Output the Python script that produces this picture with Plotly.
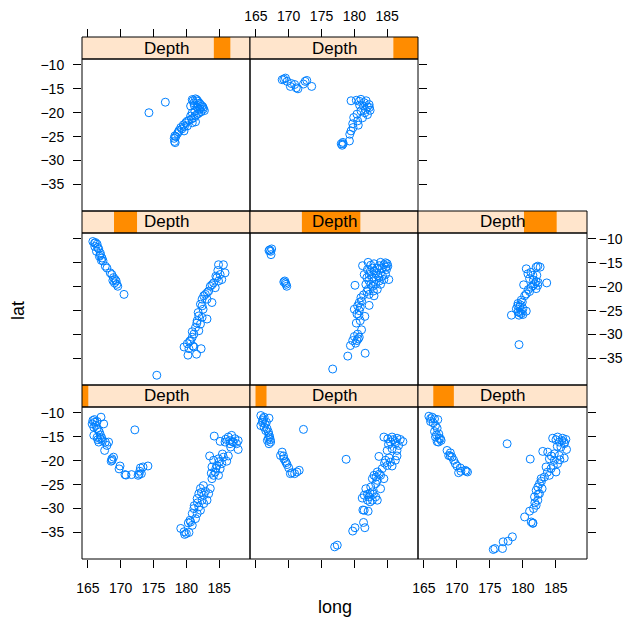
import plotly.graph_objects as go

# ---------------- data ----------------
# shingle levels of Depth (equal-count intervals)
depth_lo = [39.5, 60.5, 97.5, 161.5, 237.5, 441.5, 542.5, 586.5]
depth_hi = [63.5, 102.5, 175.5, 249.5, 460.5, 565.5, 605.5, 680.5]
depth_min, depth_max = 39.5, 680.5

x_ticks = [165, 170, 175, 180, 185]
y_ticks = [-10, -15, -20, -25, -30, -35]

# panel 1 (bottom-left)
long_p1 = [165.75, 166.05, 165.65, 166.4, 167.0, 167.4, 165.9, 166.4, 166.75, 165.9, 166.4, 166.9, 167.25, 166.65,
           167.65, 168.15, 167.9, 167.55, 168.65, 168.9, 168.55, 169.9, 169.75, 170.65, 171.65, 172.65, 173.15, 172.9,
           173.4, 174.15, 172.15, 166.2, 166.0, 166.6, 166.9, 167.1, 166.5, 168.7, 170.8, 172.8, 173.0,
           184.25, 185.15, 185.9, 186.4, 186.9, 187.4, 187.9, 187.15, 186.65, 187.65, 186.75, 187.9, 183.55, 184.15,
           184.9, 185.65, 186.4, 186.15, 185.4, 184.65, 183.9, 185.15, 184.4, 184.15, 184.9, 183.9, 183.65, 182.15,
           181.9, 182.65, 183.4, 181.65, 182.4, 183.15, 182.65, 181.9, 182.15, 181.15, 180.9, 181.65, 181.4, 180.65,
           180.9, 180.55, 179.15, 179.75, 180.4, 179.65, 186.0, 186.6, 187.0, 185.5, 185.0, 184.5, 183.8, 182.6,
           182.9, 182.3, 181.7, 181.2, 180.3, 180.0]
lat_p1 = [-11.6, -11.95, -12.3, -11.8, -10.9, -12.3, -13.0, -13.3, -14.0, -14.7, -15.1, -15.4, -15.8, -16.1,
          -16.1, -16.1, -16.8, -17.85, -19.6, -19.25, -20.1, -21.1, -21.7, -22.9, -22.9, -23.05, -22.7, -22.2,
          -21.3, -21.1, -13.55, -12.6, -11.4, -13.6, -14.6, -15.2, -15.6, -19.9, -23.0, -22.8, -21.5,
          -14.85, -15.95, -16.1, -15.05, -14.7, -15.4, -15.8, -16.1, -16.45, -16.45, -17.15, -17.65, -19.0, -19.9,
          -19.6, -19.25, -19.0, -20.1, -20.6, -21.0, -21.3, -21.7, -22.35, -23.05, -23.05, -23.75, -25.8, -25.8,
          -26.9, -27.2, -26.9, -27.9, -28.25, -28.25, -28.95, -29.65, -30.35, -30.0, -31.05, -31.05, -32.1, -32.8,
          -33.5, -32.45, -34.15, -35.4, -35.0, -34.85, -15.5, -15.8, -16.0, -18.6, -20.2, -21.6, -22.6, -25.2,
          -26.4, -26.6, -28.8, -29.4, -33.0, -35.2]

# panel 2 (bottom-middle)
long_p2 = [165.75, 166.25, 167.0, 166.0, 166.6, 165.75, 166.25, 166.5, 166.9, 167.1, 166.75, 167.25, 167.0, 169.0,
           168.75, 169.25, 169.5, 169.75, 170.0, 170.25, 170.9, 171.25, 171.6, 172.25, 178.75, 166.1, 166.4, 166.0,
           166.7, 167.0, 166.9, 167.2, 169.2, 169.6, 170.5,
           184.5, 185.1, 185.75, 186.5, 187.0, 187.4, 185.5, 186.25, 186.75, 185.0, 185.75, 186.5, 183.75, 184.75,
           185.5, 186.25, 186.5, 185.0, 185.75, 184.25, 183.5, 183.0, 184.0, 184.5, 183.5, 182.75, 183.25, 184.0,
           182.5, 181.75, 182.75, 181.5, 182.25, 183.25, 182.0, 183.5, 182.75, 181.5, 182.1, 181.4, 181.6, 179.75,
           180.1, 177.0, 177.4, 185.9, 186.2, 185.2, 184.6, 185.3, 183.8, 183.3, 182.4, 182.0, 182.9, 181.2,
           182.4, 181.3]
lat_p2 = [-10.55, -10.9, -11.1, -11.6, -11.95, -12.65, -13.0, -13.7, -14.0, -15.05, -15.75, -16.1, -16.45, -18.2,
          -18.9, -19.6, -20.1, -20.8, -21.5, -22.7, -22.7, -22.35, -22.0, -13.45, -19.7, -11.2, -12.3, -12.0,
          -13.3, -14.6, -15.3, -15.6, -19.0, -20.4, -22.5,
          -15.05, -15.4, -15.05, -15.3, -15.55, -16.0, -16.1, -16.45, -16.8, -17.85, -17.5, -17.85, -19.1, -19.9,
          -20.3, -19.9, -19.0, -21.0, -21.1, -21.65, -22.35, -23.05, -23.05, -23.75, -24.1, -23.75, -24.8, -25.85,
          -25.5, -25.85, -26.5, -27.2, -27.55, -27.55, -28.25, -28.25, -28.25, -30.35, -30.55, -32.9, -34.0, -34.7,
          -34.0, -38.0, -37.65, -15.6, -16.0, -16.6, -20.5, -19.4, -22.8, -23.4, -26.8, -27.0, -27.0, -27.8,
          -28.6, -30.3]

# panel 3 (bottom-right)
long_p3 = [165.75, 166.25, 166.6, 167.1, 166.0, 166.4, 166.75, 167.0, 166.6, 167.25, 166.75, 167.5, 167.0, 167.6,
           168.5, 169.0, 168.75, 169.25, 169.5, 169.75, 170.0, 170.5, 170.25, 171.25, 171.6, 177.6, 181.1, 166.0,
           166.9, 167.3, 167.2, 169.0, 170.6, 171.4,
           184.5, 185.25, 186.0, 186.5, 185.5, 186.25, 185.75, 186.6, 183.0, 183.75, 184.75, 185.5, 186.25, 184.0,
           184.75, 185.25, 183.5, 184.25, 185.0, 184.0, 183.25, 182.75, 182.5, 182.25, 182.9, 182.0, 182.5, 181.75,
           182.25, 182.0, 181.6, 181.0, 180.25, 181.25, 181.5, 178.4, 177.75, 177.0, 175.75, 175.5, 176.9, 185.0,
           185.9, 186.3, 185.2, 184.3, 185.6, 184.6, 183.7, 182.8, 182.3, 181.8, 181.5]
lat_p3 = [-10.7, -10.9, -11.25, -11.4, -11.8, -12.1, -12.65, -13.2, -13.9, -14.4, -15.05, -15.4, -16.0, -15.75,
          -17.85, -18.35, -18.9, -19.25, -19.9, -20.6, -21.1, -21.5, -22.5, -22.0, -22.35, -16.45, -19.65, -11.2,
          -14.6, -15.3, -16.1, -19.0, -22.2, -22.2,
          -15.3, -15.05, -15.3, -15.55, -16.1, -16.45, -17.15, -17.65, -18.05, -18.2, -18.55, -18.9, -19.45, -19.6,
          -19.9, -20.6, -21.3, -21.65, -22.35, -23.05, -23.4, -23.75, -24.8, -25.5, -25.85, -26.2, -26.9, -27.55,
          -28.25, -29.3, -30.0, -30.55, -31.75, -32.8, -33.1, -35.9, -36.8, -36.95, -38.35, -38.55, -38.35, -15.6,
          -15.8, -16.2, -17.0, -19.0, -19.8, -21.0, -22.4, -24.3, -27.0, -28.8, -33.0]

# panel 4 (middle-left)
long_p4 = [165.75, 166.15, 166.4, 166.05, 166.65, 166.3, 166.9, 166.75, 167.15, 167.05, 167.65, 167.9, 168.4, 168.65,
           168.9, 169.15, 169.3, 169.05, 169.4, 169.55, 170.5, 166.0, 166.5, 166.9, 167.3, 168.8,
           184.9, 185.65, 185.9, 185.15, 184.65, 185.4, 184.15, 183.65, 184.4, 183.4, 182.9, 182.65, 183.9, 183.15,
           182.4, 182.15, 182.55, 181.9, 182.4, 183.15, 181.65, 182.15, 181.4, 181.9, 181.15, 180.9, 180.65, 180.15,
           179.65, 180.4, 181.15, 182.25, 180.25, 181.55, 175.5, 184.8, 184.5, 184.9, 183.9, 183.2, 182.4, 181.8,
           181.6, 180.9, 180.5, 181.0]
lat_p4 = [-10.55, -10.76, -11.1, -11.6, -12.1, -12.6, -13.0, -13.65, -14.0, -14.5, -15.7, -16.1, -17.1, -17.45,
          -18.1, -18.5, -18.8, -19.2, -19.5, -19.9, -21.6, -10.9, -11.8, -13.4, -14.6, -18.7,
          -15.4, -15.4, -17.1, -17.45, -18.1, -18.5, -19.2, -19.9, -20.2, -20.9, -21.6, -21.9, -23.3, -22.6,
          -24.0, -23.65, -24.7, -26.1, -26.4, -26.75, -27.1, -27.8, -28.5, -29.2, -29.9, -30.55, -31.25, -31.9,
          -32.6, -32.95, -32.6, -32.95, -34.3, -34.1, -38.5, -16.6, -17.8, -18.8, -19.6, -21.2, -22.6, -25.4,
          -27.6, -29.4, -31.4, -32.4]

# panel 5 (middle-middle)
long_p5 = [167.1, 167.25, 167.4, 167.0, 167.3, 169.4, 169.5, 169.25, 169.7, 169.6,
           181.25, 182.1, 183.0, 184.0, 184.75, 185.1, 184.9, 184.25, 183.5, 182.75, 182.0, 181.5, 182.25, 183.25,
           184.0, 184.75, 185.25, 184.5, 183.75, 182.75, 181.9, 181.75, 182.5, 183.25, 184.0, 182.1, 182.9, 183.5,
           182.25, 183.0, 180.1, 181.0, 180.75, 182.25, 180.5, 180.0, 180.75, 180.4, 181.6, 180.9, 181.1, 180.5,
           180.0, 180.75, 179.75, 179.4, 180.4, 179.0, 181.65, 176.7, 182.5, 183.8, 184.5, 183.0, 182.4, 183.6,
           184.3, 182.2, 183.0, 183.8, 182.8, 181.9, 181.4, 181.1, 180.9, 180.7, 180.3, 180.6, 180.2, 185.0, 184.8]
lat_p5 = [-12.3, -12.6, -12.1, -12.45, -13.3, -18.8, -19.2, -19.0, -19.9, -19.5,
          -15.6, -14.9, -15.2, -14.9, -15.0, -15.7, -16.4, -16.1, -16.1, -16.1, -16.4, -17.45, -17.45, -17.1,
          -17.1, -17.45, -18.5, -18.5, -18.1, -18.1, -18.1, -19.5, -19.5, -19.5, -19.5, -20.55, -20.9, -20.55,
          -21.6, -21.9, -19.7, -22.3, -23.3, -23.9, -24.0, -24.7, -25.0, -25.7, -26.2, -27.1, -29.0, -29.9,
          -30.4, -30.55, -31.25, -32.3, -31.25, -34.5, -33.9, -37.2, -15.5, -15.6, -15.4, -16.7, -16.9, -17.7,
          -17.8, -18.7, -18.9, -18.8, -19.9, -21.0, -21.7, -23.0, -24.3, -26.0, -27.6, -30.9, -31.8, -15.2, -15.9]

# panel 6 (middle-right)
long_p6 = [180.5, 182.25, 182.6, 182.0, 180.75, 181.5, 182.1, 181.0, 180.1, 183.6, 181.75, 182.25, 181.25, 182.0,
           181.0, 180.5, 180.25, 179.75, 179.25, 179.5, 180.0, 179.0, 179.25, 179.75, 180.5, 178.25, 179.4, 179.4,
           181.2, 181.6, 182.0, 181.5, 182.3, 180.8, 179.9, 179.6, 179.2, 179.8, 179.5, 180.0]
lat_p6 = [-16.25, -15.7, -15.9, -15.9, -17.3, -17.6, -17.6, -18.3, -19.6, -19.2, -19.4, -19.7, -20.1, -20.4,
          -21.0, -21.5, -21.9, -22.8, -23.5, -24.2, -24.6, -24.6, -25.3, -25.6, -25.1, -25.95, -25.95, -32.1,
          -17.0, -18.6, -18.9, -19.8, -19.1, -20.6, -23.2, -23.8, -24.0, -25.0, -25.4, -25.8]

# panel 7 (top-left)
long_p7 = [174.3, 176.8, 180.9, 181.4, 181.75, 181.15, 182.15, 182.55, 182.75, 182.25, 181.65, 181.9, 181.15, 180.65,
           180.4, 179.9, 179.55, 180.15, 179.15, 178.9, 179.65, 178.65, 178.25, 178.15, 178.3, 180.9, 181.4, 180.65,
           181.65, 181.0, 181.6, 182.0, 182.4, 182.6, 182.1, 181.2, 181.9, 181.4, 180.8, 180.1, 179.7, 179.3, 178.8,
           178.4, 178.2, 181.3, 180.9]
lat_p7 = [-20.0, -17.8, -17.25, -17.1, -17.6, -17.95, -18.3, -18.85, -19.55, -19.8, -20.35, -19.3, -21.05, -20.7,
          -21.6, -22.1, -22.55, -22.75, -23.1, -23.7, -23.8, -24.35, -24.85, -25.35, -26.25, -22.1, -21.9, -18.6,
          -18.85, -17.5, -17.3, -18.0, -18.6, -19.2, -19.1, -18.4, -20.1, -20.6, -21.3, -21.8, -22.9, -23.4, -24.0,
          -25.0, -26.0, -19.7, -20.0]

# panel 8 (top-middle)
long_p8 = [169.25, 169.0, 169.5, 169.75, 170.4, 170.25, 170.9, 171.4, 171.15, 172.5, 172.75, 172.25, 173.5,
           179.5, 180.75, 181.5, 182.25, 182.4, 182.0, 181.25, 180.5, 179.75, 179.5, 179.3, 179.25, 178.25, 178.15,
           178.0, 180.3, 181.0, 181.8, 182.0, 181.4, 180.8, 181.7, 181.0, 180.4, 179.9, 181.6, 180.6, 179.8, 178.3,
           182.3]
lat_p8 = [-12.97, -13.1, -12.76, -13.45, -13.9, -14.5, -14.1, -15.0, -14.8, -13.45, -13.25, -14.0, -14.5,
          -17.5, -17.6, -17.9, -18.3, -19.5, -20.4, -21.05, -21.7, -22.3, -23.8, -24.5, -25.9, -26.2, -26.8,
          -26.5, -17.4, -17.2, -17.5, -18.8, -18.6, -18.4, -19.3, -19.6, -20.3, -21.0, -20.0, -22.6, -23.1, -26.5,
          -18.9]

longs = [long_p1, long_p2, long_p3, long_p4, long_p5, long_p6, long_p7, long_p8]
lats = [lat_p1, lat_p2, lat_p3, lat_p4, lat_p5, lat_p6, lat_p7, lat_p8]

# ---------------- layout geometry (window pixels) ----------------
WIN_W, WIN_H = 631, 622
OFF = 8                      # default page margin around the plot div
W, H = WIN_W - OFF, WIN_H - OFF
COLS = [(82, 250), (250, 418), (418, 587)]
ROWS = [(407, 559), (233, 385), (59, 211)]   # bottom, middle, top (top, bottom pixel)
STRIP = 22
XR = [164.1, 189.7]
YR = [-40.54, -8.77]

POINT = "#0080ff"
PEACH = "#ffe5cc"
ORANGE = "#ff8c00"
FONT = "Liberation Sans, Arial, Helvetica, sans-serif"


def px(x):
    return (x - OFF) / W


def py(y):
    return 1 - (y - OFF) / H


fig = go.Figure()
shapes = []
annotations = []
layout = {}

for i in range(8):
    r, c = i // 3, i % 3
    x0, x1 = COLS[c]
    top, bot = ROWS[r]
    n = i + 1
    xa = "x" if n == 1 else f"x{n}"
    ya = "y" if n == 1 else f"y{n}"

    fig.add_trace(go.Scatter(
        x=longs[i], y=lats[i], mode="markers", xaxis=xa, yaxis=ya,
        marker=dict(symbol="circle-open", size=8, color=POINT, line=dict(width=1, color=POINT)),
        showlegend=False, hoverinfo="x+y"))

    # x axis
    xdict = dict(domain=[px(x0), px(x1)], range=XR, showgrid=False, zeroline=False, showline=False,
                 tickvals=x_ticks, tickcolor="black", ticklen=8, tickwidth=1, automargin=False,
                 tickfont=dict(family=FONT, size=14, color="black"), anchor=ya)
    if r == 0:
        xdict.update(ticks="outside", side="bottom", showticklabels=(c != 1), ticklabelstandoff=8)
    elif r == 2:
        xdict.update(ticks="outside", side="top", anchor="free", position=py(top - STRIP),
                     showticklabels=(c == 1), ticklabelstandoff=2)
    else:
        xdict.update(ticks="", showticklabels=False)
    layout["xaxis" if n == 1 else f"xaxis{n}"] = xdict

    # y axis
    ydict = dict(domain=[py(bot), py(top)], range=YR, showgrid=False, zeroline=False, showline=False,
                 tickvals=y_ticks, tickcolor="black", ticklen=8, tickwidth=1, automargin=False,
                 tickfont=dict(family=FONT, size=14, color="black"), anchor=xa)
    if c == 0:
        ydict.update(ticks="outside", side="left", showticklabels=(r != 1), ticklabelstandoff=6)
    elif c == 2 or (r == 2 and c == 1):
        ydict.update(ticks="outside", side="right", showticklabels=(r == 1), ticklabelstandoff=0)
    else:
        ydict.update(ticks="", showticklabels=False)
    layout["yaxis" if n == 1 else f"yaxis{n}"] = ydict

    # strip
    st = top - STRIP
    shapes.append(dict(type="rect", xref="paper", yref="paper", x0=px(x0), x1=px(x1), y0=py(top), y1=py(st),
                       fillcolor=PEACH, line=dict(width=0), layer="above"))
    f0 = (depth_lo[i] - depth_min) / (depth_max - depth_min)
    f1 = (depth_hi[i] - depth_min) / (depth_max - depth_min)
    shapes.append(dict(type="rect", xref="paper", yref="paper",
                       x0=px(x0 + f0 * (x1 - x0)), x1=px(x0 + f1 * (x1 - x0)), y0=py(top), y1=py(st),
                       fillcolor=ORANGE, line=dict(width=0), layer="above"))
    shapes.append(dict(type="rect", xref="paper", yref="paper", x0=px(x0), x1=px(x1), y0=py(top), y1=py(st),
                       fillcolor="rgba(0,0,0,0)", line=dict(width=1, color="black"), layer="above"))
    # panel box
    shapes.append(dict(type="rect", xref="paper", yref="paper", x0=px(x0), x1=px(x1), y0=py(bot), y1=py(top),
                       fillcolor="rgba(0,0,0,0)", line=dict(width=1, color="black"), layer="above"))
    annotations.append(dict(text="Depth", xref="paper", yref="paper", x=px((x0 + x1) / 2), y=py(top - STRIP / 2),
                            showarrow=False, xanchor="center", yanchor="middle",
                            font=dict(family=FONT, size=17, color="black")))

annotations.append(dict(text="long", xref="paper", yref="paper", x=px(335), y=py(607), showarrow=False,
                        xanchor="center", yanchor="middle", font=dict(family=FONT, size=18, color="black")))
annotations.append(dict(text="lat", xref="paper", yref="paper", x=px(18), y=py(310), showarrow=False,
                        textangle=-90, xanchor="center", yanchor="middle",
                        font=dict(family=FONT, size=18, color="black")))

fig.update_layout(**layout)
fig.update_layout(width=W, height=H, margin=dict(l=0, r=0, t=0, b=0, pad=0),
                  paper_bgcolor="white", plot_bgcolor="white", shapes=shapes, annotations=annotations,
                  showlegend=False)
fig.write_html("out.html")
